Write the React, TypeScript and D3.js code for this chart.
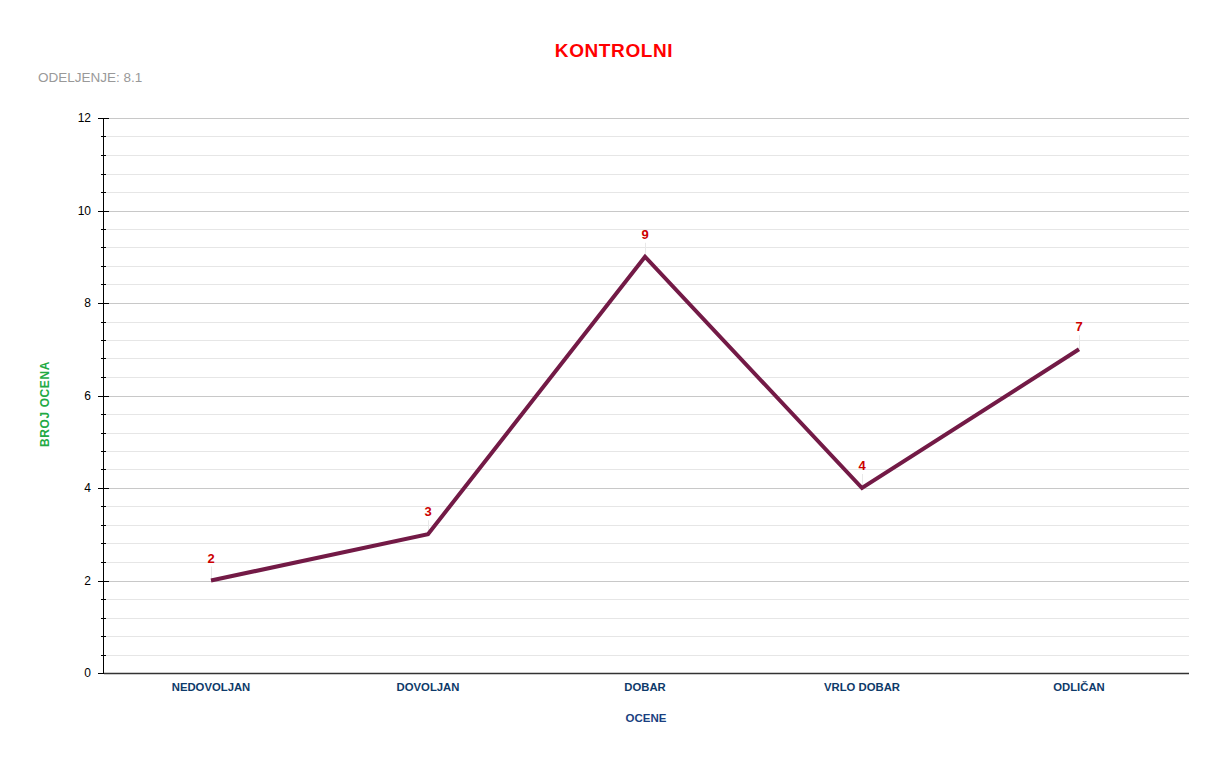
import React from "react";
import * as d3 from "d3";

const categories = ["NEDOVOLJAN", "DOVOLJAN", "DOBAR", "VRLO DOBAR", "ODLIČAN"];
const values = [2, 3, 9, 4, 7];
const yTicks = [0, 2, 4, 6, 8, 10, 12];

const W = 1228, H = 764;
const M = { left: 104, right: 1189, top: 118, bottom: 673 };
const FONT = "Liberation Sans, Arial, sans-serif";

export default function App() {
  const x = d3.scaleBand<string>().domain(categories).range([M.left - 1.5, M.right - 1.5]);
  const y = d3.scaleLinear().domain([0, 12]).range([M.bottom, M.top]);
  const minor = d3.range(0, 12.0001, 0.4).filter((v) => Math.abs(v / 2 - Math.round(v / 2)) > 1e-6);
  const cx = (c: string) => (x(c) as number) + x.bandwidth() / 2;
  const line = d3.line<number>().x((_, i) => cx(categories[i])).y((d) => y(d));

  return (
    <svg width={W} height={H} style={{ position: "absolute", left: 0, top: 0, background: "#fff" }}>
      <text x={614} y={57} textAnchor="middle" fill="#ff0000" fontFamily={FONT} fontWeight="bold" fontSize={19} letterSpacing={0.6}>KONTROLNI</text>
      <text x={38} y={82} fill="#999" fontFamily={FONT} fontSize={13.5}>ODELJENJE: 8.1</text>
      {minor.map((v) => (
        <line key={"m" + v} x1={M.left} x2={M.right} y1={Math.round(y(v)) + 0.5} y2={Math.round(y(v)) + 0.5} stroke="#e6e6e6" />
      ))}
      {yTicks.filter((v) => v > 0).map((v) => (
        <line key={"g" + v} x1={M.left} x2={M.right} y1={Math.round(y(v)) + 0.5} y2={Math.round(y(v)) + 0.5} stroke="#c8c8c8" />
      ))}
      {minor.map((v) => (
        <line key={"mt" + v} x1={101} x2={106} y1={Math.round(y(v)) + 0.5} y2={Math.round(y(v)) + 0.5} stroke="#000" />
      ))}
      {yTicks.map((v) => (
        <g key={"t" + v}>
          <line x1={98} x2={109} y1={Math.round(y(v)) + 0.5} y2={Math.round(y(v)) + 0.5} stroke="#000" />
          <text x={91} y={y(v) + 4} textAnchor="end" fontFamily={FONT} fontSize={12} fill="#000">{v}</text>
        </g>
      ))}
      <line x1={M.left - 0.5} x2={M.left - 0.5} y1={M.top} y2={M.bottom} stroke="#000" />
      <line x1={M.left} x2={M.right} y1={M.bottom + 0.5} y2={M.bottom + 0.5} stroke="#333" strokeWidth={1.5} />
      {categories.map((c) => (
        <text key={c} x={cx(c)} y={691} textAnchor="middle" fill="#0d3a6a" fontFamily={FONT} fontWeight="bold" fontSize={11.3}>{c}</text>
      ))}
      <text x={646} y={722} textAnchor="middle" fill="#1a3f80" fontFamily={FONT} fontWeight="bold" fontSize={11.5}>OCENE</text>
      <text transform={`translate(49,404) rotate(-90)`} textAnchor="middle" fill="#22aa44" fontFamily={FONT} fontWeight="bold" fontSize={12} letterSpacing={0.6}>BROJ OCENA</text>
      {values.map((v, i) => (
        <line key={"l" + i} x1={Math.round(cx(categories[i])) + 0.5} x2={Math.round(cx(categories[i])) + 0.5} y1={y(v) - 14} y2={y(v)} stroke="#e8e8e8" />
      ))}
      <path d={line(values) as string} fill="none" stroke="#731a46" strokeWidth={4} strokeLinejoin="miter" />
      {values.map((v, i) => (
        <text key={"v" + i} x={cx(categories[i])} y={y(v) - 18} textAnchor="middle" fill="#cc0000" fontFamily={FONT} fontWeight="bold" fontSize={13}>{v}</text>
      ))}
    </svg>
  );
}
